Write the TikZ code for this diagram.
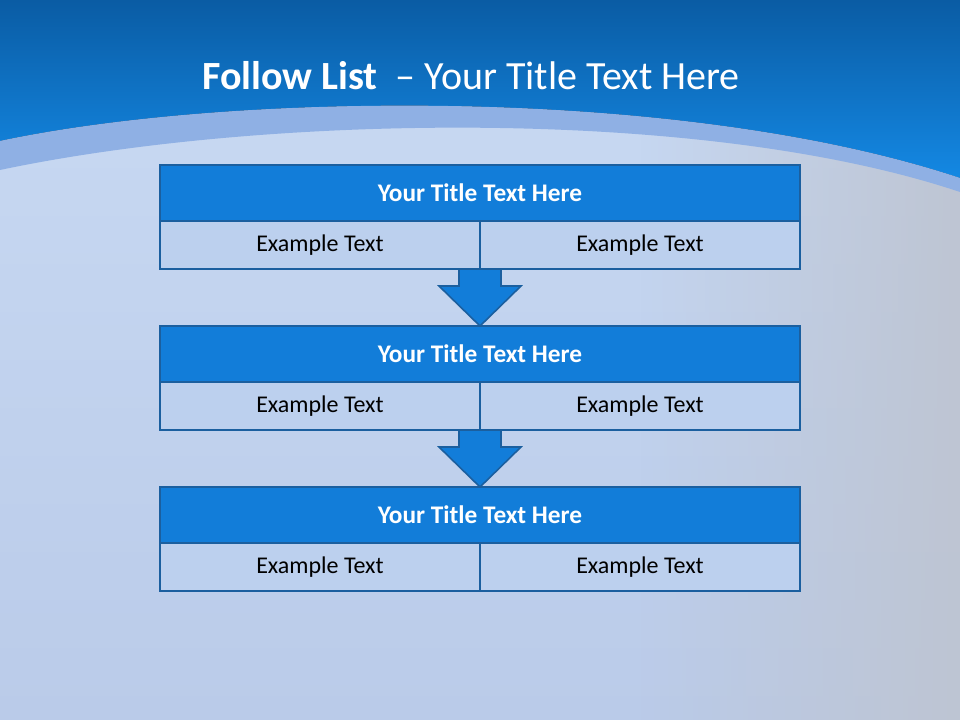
\documentclass[tikz,border=0pt]{standalone}
\usepackage{fontspec}
\setmainfont{Carlito}
\usetikzlibrary{calc,positioning,fadings}
\definecolor{bandtop}{HTML}{0A5CA4}
\definecolor{bandbot}{HTML}{1488E3}
\definecolor{bandmid}{HTML}{8FB0E4}
\definecolor{pagetop}{HTML}{C9DAF3}
\definecolor{pagebot}{HTML}{BACBE9}
\definecolor{pagegrey}{HTML}{BEC5D3}
\definecolor{boxblue}{HTML}{127DD9}
\definecolor{boxedge}{HTML}{1B5F9F}
\definecolor{cellblue}{HTML}{BCD0EE}
\tikzset{
  rowtitle/.style={draw=boxedge, fill=boxblue, line width=2pt, minimum width=480pt,
    minimum height=42pt, inner sep=0pt, outer sep=0pt, text=white,
    font=\fontsize{19}{23}\selectfont\bfseries},
  rowcell/.style={draw=boxedge, fill=cellblue, line width=2pt, minimum width=240pt,
    minimum height=36pt, inner sep=0pt, outer sep=0pt, anchor=north west,
    font=\fontsize{18}{22}\selectfont},
  flowarrow/.style={draw=boxedge, fill=boxblue, line width=1.2pt, line join=miter}
}
\begin{document}
\begin{tikzpicture}[x=0.75pt,y=-0.75pt]
\useasboundingbox (0,0) rectangle (960,720);
%% background
\fill[top color=pagetop, bottom color=pagebot] (0,0) rectangle (960,720);
\fill[pagegrey, path fading=west] (640,0) rectangle (960,720);
\fill[top color=bandtop, bottom color=bandbot] (0,0) -- (960,0) -- (960,178)
  .. controls (680,85) and (230,92) .. (0,141) -- cycle; %%Top band
\fill[bandmid] (0,141) .. controls (230,92) and (680,85) .. (960,178) -- (960,192)
  .. controls (700,105) and (260,115) .. (0,170) -- cycle; %%Arc
\node[text=white, font=\fontsize{30}{36}\selectfont] (head) at (471,76)
  {\textbf{Follow List}\ \ -- Your Title Text Here};

%% boxes
\node[rowtitle] (title1) at (480,193) {Your Title Text Here};
\node[rowtitle] (title2) at (480,354) {Your Title Text Here};
\node[rowtitle] (title3) at (480,515) {Your Title Text Here};

%% arrows
\filldraw[flowarrow] ($(title1.south)+(-21,48)$) -- ++(0,17) -- ++(-20,0) -- (title2.north)
  -- ($(title1.south)+(41,65)$) -- ++(-20,0) -- ++(0,-17) -- cycle;
\filldraw[flowarrow] ($(title2.south)+(-21,48)$) -- ++(0,17) -- ++(-20,0) -- (title3.north)
  -- ($(title2.south)+(41,65)$) -- ++(-20,0) -- ++(0,-17) -- cycle;

\node[rowcell] (left1) at (title1.south west) {Example Text};
\node[rowcell] (right1) at (left1.north east) {Example Text};
\node[rowcell] (left2) at (title2.south west) {Example Text};
\node[rowcell] (right2) at (left2.north east) {Example Text};
\node[rowcell] (left3) at (title3.south west) {Example Text};
\node[rowcell] (right3) at (left3.north east) {Example Text};
\end{tikzpicture}
\end{document}
